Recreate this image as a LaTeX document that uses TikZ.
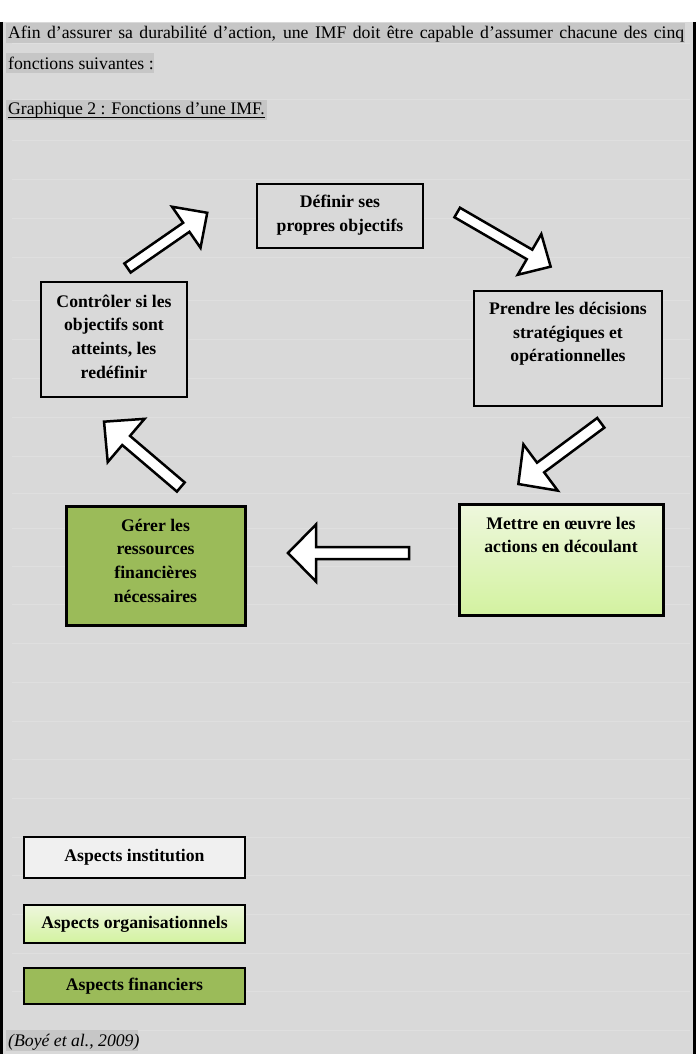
\documentclass[tikz,border=0pt]{standalone}
\usepackage{fontspec}
\setmainfont{Liberation Serif}
\definecolor{bggray}{HTML}{D9D9D9}
\definecolor{hlgray}{HTML}{C6C6C6}
\definecolor{faintline}{HTML}{DFDFDF}
\definecolor{olivegreen}{HTML}{9BBB59}
\definecolor{lgtop}{HTML}{EEF7DD}
\definecolor{lgbot}{HTML}{D3F2A0}
\definecolor{paleinst}{HTML}{F0F0F0}
\newcommand\imfarrow[7]{% x, y, angle, length, head length, head half width, shaft half width
  \draw[blockarrow, shift={(#1,#2)}, rotate=#3]
    (0,-#7) -- ({#4-#5},-#7) -- ({#4-#5},-#6) -- (#4,0) -- ({#4-#5},#6) -- ({#4-#5},#7) -- (0,#7) -- cycle;}
\tikzset{
  plainbox/.style={draw=black, line width=2.4pt, fill=bggray, inner sep=0pt},
  instbox/.style={draw=black, line width=2.8pt, fill=paleinst, inner sep=0pt, font=\fontsize{17.7}{24}\selectfont\bfseries},
  greenbox/.style={draw=black, line width=3pt, fill=olivegreen, inner sep=0pt, font=\fontsize{17.7}{24}\selectfont\bfseries},
  lightbox/.style={draw=black, line width=3pt, top color=lgtop, bottom color=lgbot, inner sep=0pt, font=\fontsize{17.7}{24}\selectfont\bfseries},
  boxtext/.style={font=\fontsize{17.7}{23.7}\selectfont\bfseries, align=center, inner sep=0pt},
  bodytext/.style={font=\fontsize{17.7}{22}\selectfont, inner sep=0pt, anchor=base west},
  blockarrow/.style={draw=black, line width=2.5pt, fill=white, line join=miter},
  faint/.style={draw=faintline, line width=0.8pt},
  hl/.style={fill=hlgray},
}
\begin{document}
\begin{tikzpicture}[x=1pt,y=-1pt]
\useasboundingbox (0,0) rectangle (698,1064);
% page background
\fill[bggray] (3,22) rectangle (693,1054);
\foreach \yy in {43,99,140,179,218,257,300,339,378,417,456,493,528,566,604,643,682,721,759,798,837,875,914,953,991,1030}
  \draw[faint] (12,\yy) -- (690,\yy);
\draw[line width=3pt] (1.5,22) -- (1.5,1054);
\draw[line width=3pt] (694.5,22) -- (694.5,1054);
% highlights
\fill[hl] (6,23) rectangle (685,43.5);
\fill[hl] (6,53) rectangle (154,73);
\fill[hl] (6,100) rectangle (267,120);
\fill[hl] (6,1030) rectangle (138,1051);
% body text
\node[bodytext] (l1) at (8,39) {\makebox[676pt][s]{Afin d’assurer sa durabilité d’action, une IMF doit être capable d’assumer chacune des cinq}};
\node[bodytext] (l2) at (8,70) {fonctions suivantes :};
\node[bodytext] (l3) at (8,115) {Graphique 2 : Fonctions d’une IMF.};
\draw[line width=1pt] ([yshift=-2.5pt]l3.base west) -- ([yshift=-2.5pt]l3.base east);
\node[bodytext, font=\fontsize{17.7}{22}\selectfont\itshape] (cite) at (8,1046) {(Boyé et al., 2009)};
% diagram boxes
\node[plainbox, minimum width=166pt, minimum height=64pt] (def) at (340,216) {};
\node[boxtext] (defT) at (340,215) {Définir ses\\propres objectifs};
\node[plainbox, minimum width=146pt, minimum height=115pt] (ctl) at (114,339.5) {};
\node[boxtext] (ctlT) at (114,336.5) {Contrôler si les\\objectifs sont\\atteints, les\\redéfinir};
\node[plainbox, line width=2.7pt, minimum width=188pt, minimum height=115pt] (prd) at (568,348.5) {};
\node[boxtext] (prdT) at (568,334) {Prendre les décisions\\stratégiques et\\opérationnelles};
\node[lightbox, minimum width=204pt, minimum height=111pt] (met) at (561,559.5) {};
\node[boxtext] (metT) at (561,535) {Mettre en œuvre les\\actions en découlant};
\node[greenbox, minimum width=179pt, minimum height=119pt] (ger) at (155.5,565.5) {};
\node[boxtext] (gerT) at (155.5,560.5) {Gérer les\\ressources\\financières\\nécessaires};
% block arrows
\imfarrow{127.5}{268}{34.7}{97}{25.5}{25}{5.5}
\imfarrow{457.2}{212.5}{-30.1}{108}{24.4}{23.5}{5.5}
\imfarrow{600.8}{422.8}{216.6}{102.7}{27.7}{28.8}{6}
\imfarrow{409}{553}{180}{121}{28}{28.5}{6}
\imfarrow{180.8}{487}{139.6}{100.8}{29}{28.4}{6}
% legend
\node[instbox, minimum width=221pt, minimum height=41pt] (leg1) at (134.5,857.5) {Aspects institution};
\node[lightbox, line width=2.8pt, minimum width=221pt, minimum height=38pt] (leg2) at (134.5,924) {Aspects organisationnels};
\node[greenbox, line width=2.8pt, minimum width=221pt, minimum height=36pt] (leg3) at (134.5,986) {Aspects financiers};
\end{tikzpicture}
\end{document}
